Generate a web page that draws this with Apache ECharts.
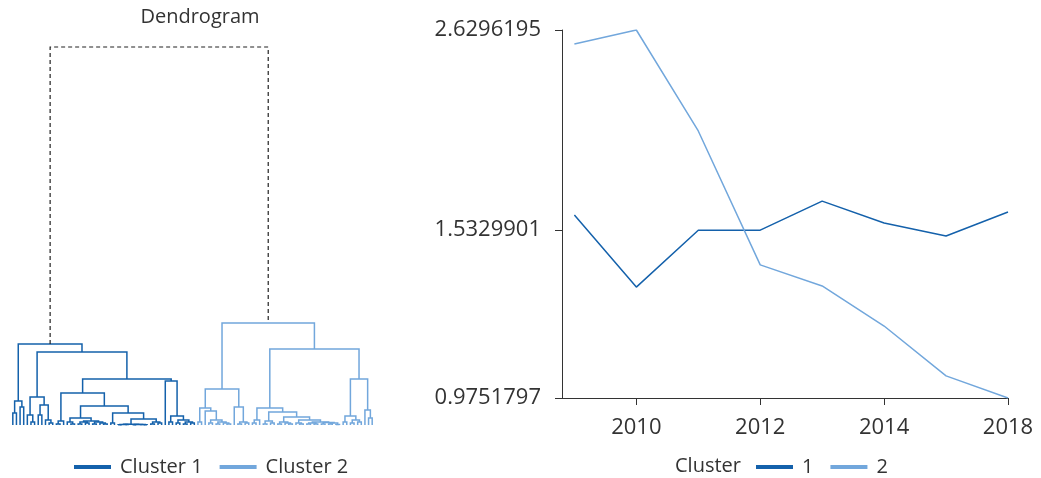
<!DOCTYPE html>
<html>
<head>
<meta charset="utf-8">
<script src="https://cdn.jsdelivr.net/npm/echarts@6/dist/echarts.min.js"></script>
<style>
  html, body { margin: 0; padding: 0; background: #fff; }
  #chart { width: 1041px; height: 478px; }
</style>
</head>
<body>
<div id="chart"></div>
<script>
// dendrogram merges: [height, left, right], a leaf is 0
const rootHeight = 3.78
const cluster1Tree = [0.81,
  [0.24, [0.12, 0, 0], [0.18, 0, 0]],
  [0.73,
    [0.28, [0.10, 0, [0.03, 0, 0]], [0.20, [0.10, 0, 0], [0.05, 0, [0.02, 0, 0]]]],
    [0.46,
      [0.32,
        [0.04, [0.01, 0, 0], 0],
        [0.19,
          [0.07, [0.03, 0, [0.01, 0, 0]],
            [0.04, [0.03, [0.01, 0, 0], [0.02, 0, 0]], [0.03, [0.01, 0, 0], [0.02, 0, [0.01, 0, 0]]]]],
          [0.12, [0.02, 0, 0],
            [0.06,
              [0.008, [0.005, [0.003, 0, 0], [0.004, 0, 0]], [0.006, [0.003, 0, 0], [0.005, 0, [0.002, 0, 0]]]],
              [0.03, [0.01, 0, 0], [0.02, 0, 0]]]]]],
      [0.44, 0, [0.09, [0.03, 0, 0], [0.05, [0.02, 0, 0], [0.03, [0.01, 0, 0], [0.02, 0, 0]]]]]]]]
const cluster2Tree = [1.02,
  [0.36,
    [0.17, [0.03, 0, 0],
      [0.14, 0, [0.05, [0.02, 0, 0], [0.03, [0.01, 0, 0], [0.02, 0, [0.01, 0, 0]]]]]],
    [0.18, 0, [0.03, [0.01, 0, 0], [0.02, 0, 0]]]],
  [0.76,
    [0.17,
      [0.05, [0.02, 0, 0], 0],
      [0.13,
        [0.04, [0.01, 0, 0], [0.02, 0, 0]],
        [0.08,
          [0.03, [0.01, 0, 0], [0.02, 0, [0.01, 0, 0]]],
          [0.05, [0.02, 0, [0.01, 0, 0]],
            [0.03, [0.02, [0.01, 0, 0], [0.01, 0, 0]], [0.025, [0.01, 0, 0], [0.02, [0.01, 0, 0], [0.005, 0, 0]]]]]]]],
    [0.46,
      [0.09, [0.03, 0, 0], [0.05, [0.02, 0, 0], [0.03, 0, 0]]],
      [0.15, 0, [0.07, 0, 0]]]]]

// line chart
const years = ['2009', '2010', '2011', '2012', '2013', '2014', '2015', '2018']
const cluster1Values = [1.597, 1.315, 1.5329901, 1.533, 1.658, 1.563, 1.509, 1.61]
const cluster2Values = [2.532, 2.6296195, 2.003, 1.396, 1.319, 1.184, 1.035, 0.9751797]
const yTicks = [0.9751797, 1.5329901, 2.6296195]
const xTickIndex = [1, 3, 5, 7]

const color1 = '#1461ab'
const color2 = '#72a7dc'
const textColor = '#333'
const fontFamily = '"Open Sans", sans-serif'

// walk a tree, leaves get consecutive positions, each merge gives one link
const leafCounter = { next: 0 }
function layoutTree(tree, links) {
  if (tree === 0) {
    return { x: leafCounter.next++, h: 0 }
  }
  const [h, left, right] = tree
  const a = layoutTree(left, links)
  const b = layoutTree(right, links)
  links.push([a.x, a.h, b.x, b.h, h])
  return { x: (a.x + b.x) / 2, h }
}

const links1 = []
const links2 = []
const top1 = layoutTree(cluster1Tree, links1)
const top2 = layoutTree(cluster2Tree, links2)
const rootLinks = [[top1.x, top1.h, top2.x, top2.h, rootHeight]]
const leafCount = leafCounter.next

const makeRenderLink = (stroke, lineWidth, lineDash) => (params, api) => {
  const xl = api.value(0)
  const xr = api.value(2)
  const h = api.value(4)
  return {
    type: 'polyline',
    shape: {
      points: [
        api.coord([xl, api.value(1)]),
        api.coord([xl, h]),
        api.coord([xr, h]),
        api.coord([xr, api.value(3)]),
      ],
    },
    style: { stroke, fill: 'none', lineWidth, lineDash },
  }
}

const legendBase = {
  top: 452,
  icon: 'rect',
  itemWidth: 37,
  itemHeight: 4,
  itemGap: 17,
  textStyle: { color: textColor, fontSize: 20, fontFamily, padding: [0, 0, 0, 4] },
}

const chart = echarts.init(document.getElementById('chart'), null, { renderer: 'canvas' })

chart.setOption({
  animation: false,
  textStyle: { fontFamily },
  title: {
    text: 'Dendrogram',
    left: 195,
    textAlign: 'center',
    top: 2,
    textStyle: { color: textColor, fontSize: 20, fontWeight: 'normal', fontFamily },
  },
  graphic: [
    {
      type: 'text',
      x: 675,
      y: 466,
      style: { text: 'Cluster', fill: textColor, font: '20px "Open Sans"', verticalAlign: 'middle' },
    },
  ],
  legend: [
    { ...legendBase, data: ['Cluster 1', 'Cluster 2'], left: 69 },
    { ...legendBase, data: ['1', '2'], left: 751 },
  ],
  grid: [
    { left: 11, top: 47, width: 363, height: 378 },
    { left: 562, top: 30, width: 446, height: 368 },
  ],
  xAxis: [
    { gridIndex: 0, type: 'value', min: -0.5, max: leafCount - 0.5, show: false },
    {
      gridIndex: 1,
      type: 'value',
      min: -0.2,
      max: years.length - 1,
      splitLine: { show: false },
      axisLine: { onZero: false, lineStyle: { color: textColor, width: 1 } },
      axisTick: { length: 7, lineStyle: { color: textColor }, customValues: xTickIndex },
      axisLabel: {
        customValues: xTickIndex,
        color: textColor,
        fontSize: 22,
        margin: 19,
        formatter: (v) => years[v],
      },
    },
  ],
  yAxis: [
    { gridIndex: 0, type: 'value', min: 0, max: rootHeight, show: false },
    {
      gridIndex: 1,
      type: 'log',
      min: yTicks[0],
      max: yTicks[yTicks.length - 1],
      splitLine: { show: false },
      axisLine: { show: true, onZero: false, lineStyle: { color: textColor, width: 1 } },
      axisTick: { show: true, length: 7, lineStyle: { color: textColor }, customValues: yTicks },
      axisLabel: {
        customValues: yTicks,
        color: textColor,
        fontSize: 22,
        margin: 21,
        formatter: (v) => Number(v).toFixed(7),
      },
    },
  ],
  series: [
    {
      name: 'Cluster 1',
      type: 'custom',
      xAxisIndex: 0,
      yAxisIndex: 0,
      itemStyle: { color: color1 },
      renderItem: makeRenderLink(color1, 1.5),
      encode: { x: [0, 2], y: [1, 3, 4] },
      data: links1,
      silent: true,
    },
    {
      name: 'Cluster 2',
      type: 'custom',
      xAxisIndex: 0,
      yAxisIndex: 0,
      itemStyle: { color: color2 },
      renderItem: makeRenderLink(color2, 1.5),
      encode: { x: [0, 2], y: [1, 3, 4] },
      data: links2,
      silent: true,
    },
    {
      name: 'root',
      type: 'custom',
      xAxisIndex: 0,
      yAxisIndex: 0,
      renderItem: makeRenderLink('#222', 1.2, [4, 3]),
      encode: { x: [0, 2], y: [1, 3, 4] },
      data: rootLinks,
      silent: true,
    },
    {
      name: '1',
      type: 'line',
      xAxisIndex: 1,
      yAxisIndex: 1,
      data: cluster1Values.map((v, i) => [i, v]),
      showSymbol: false,
      lineStyle: { color: color1, width: 1.5 },
      itemStyle: { color: color1 },
    },
    {
      name: '2',
      type: 'line',
      xAxisIndex: 1,
      yAxisIndex: 1,
      data: cluster2Values.map((v, i) => [i, v]),
      showSymbol: false,
      lineStyle: { color: color2, width: 1.5 },
      itemStyle: { color: color2 },
    },
  ],
})
</script>
</body>
</html>
